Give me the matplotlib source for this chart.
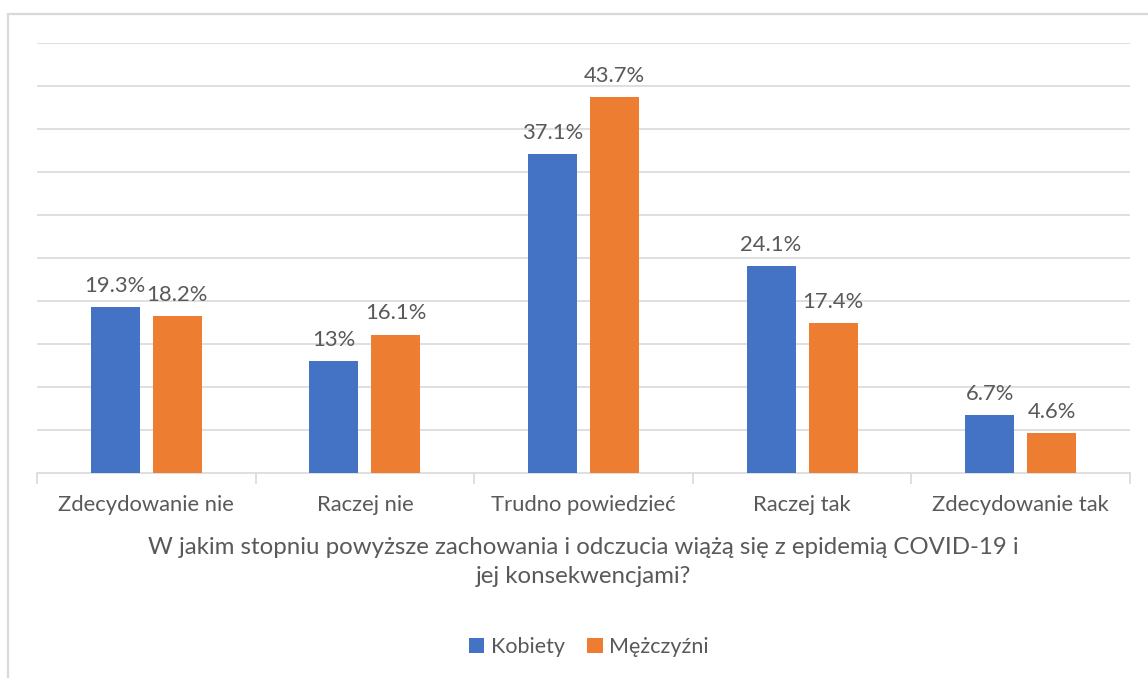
import matplotlib
matplotlib.use('Agg')
import matplotlib.pyplot as plt
from matplotlib.patches import Rectangle
import numpy as np

# survey answers and percentages per group
categories = ['Zdecydowanie nie', 'Raczej nie', 'Trudno powiedzieć', 'Raczej tak', 'Zdecydowanie tak']
kobiety = [19.3, 13, 37.1, 24.1, 6.7]
mezczyzni = [18.2, 16.1, 43.7, 17.4, 4.6]
series_names = ['Kobiety', 'Mężczyźni']
xlabel = 'W jakim stopniu powyższe zachowania i odczucia wiążą się z epidemią COVID-19 i\njej konsekwencjami?'

blue = '#4472C4'
orange = '#ED7D31'
txt = '#595959'
grid = '#d9d9d9'

plt.rcParams['font.family'] = ['Lato', 'DejaVu Sans']

fig = plt.figure(figsize=(11.48, 6.78), dpi=100)
ax = fig.add_axes([37/1148, 1-473/678, (1130-37)/1148, (473-43)/678])

x = np.arange(len(categories))
w = 0.224
off = 0.142
b1 = ax.bar(x - off, kobiety, w, color=blue, label=series_names[0], zorder=3)
b2 = ax.bar(x + off, mezczyzni, w, color=orange, label=series_names[1], zorder=3)

for bars, vals in ((b1, kobiety), (b2, mezczyzni)):
    for r, v in zip(bars, vals):
        ax.annotate(f'{v:g}%', (r.get_x() + r.get_width()/2, v),
                    xytext=(0, 8), textcoords='offset points',
                    ha='center', va='bottom', fontsize=15.8, color=txt)

ax.set_xlim(-0.5, len(categories) - 0.5)
ax.set_ylim(0, 50)
ax.set_yticks(np.arange(5, 51, 5))
ax.yaxis.grid(True, color=grid, lw=1.2, zorder=0)
ax.tick_params(axis='y', length=0, labelleft=False)

ax.set_xticks(x)
ax.set_xticklabels(categories, fontsize=15.8, color=txt)
ax.set_xticks(np.arange(-0.5, len(categories)), minor=True)
ax.tick_params(axis='x', which='major', length=0, pad=16)
ax.tick_params(axis='x', which='minor', length=8, width=1.2, color=grid)

for s in ['top', 'right', 'left']:
    ax.spines[s].set_visible(False)
ax.spines['bottom'].set_color(grid)
ax.spines['bottom'].set_linewidth(1.2)

ax.set_xlabel(xlabel, fontsize=17.3, color=txt, labelpad=16, linespacing=1.45)

leg = fig.legend(handles=[b1, b2], loc='center', bbox_to_anchor=(589/1148, 1-647/678),
                 ncol=2, frameon=False, fontsize=15.5, handlelength=0.7, handleheight=0.7,
                 handletextpad=0.3, columnspacing=1.05)
for t in leg.get_texts():
    t.set_color(txt)

# chart frame
fig.patches.append(Rectangle((7.5/1148, -0.1), 1.2, 1.1 - 13.5/678, transform=fig.transFigure,
                             fill=False, edgecolor=grid, lw=1.6))

fig.savefig('out.png', dpi=100, facecolor='white')
